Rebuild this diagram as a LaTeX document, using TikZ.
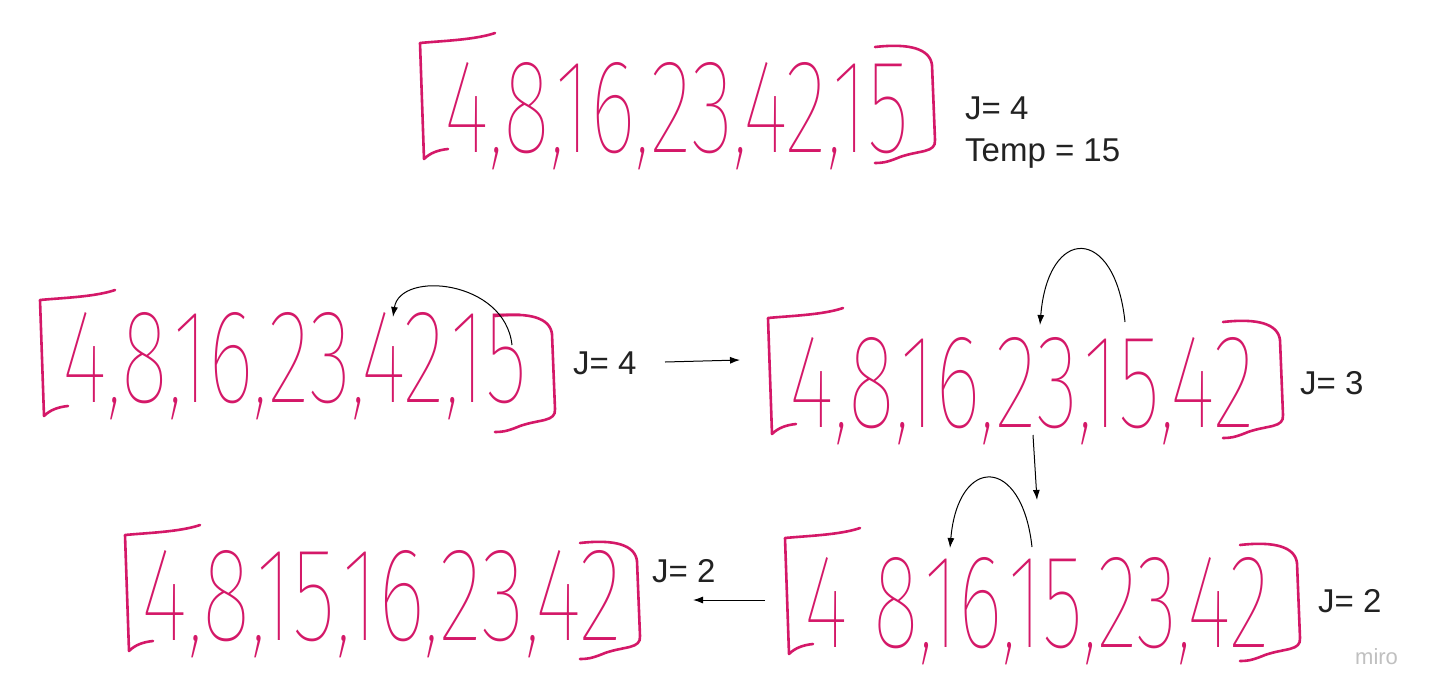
\documentclass[tikz,border=0pt]{standalone}
\usepackage{graphicx}
\usepackage{fontspec}
\setmainfont{Liberation Sans}
\newfontfamily\handfont{Fira Sans Thin}
\usetikzlibrary{arrows.meta}
\definecolor{ink}{RGB}{212,24,104}
\definecolor{lbl}{RGB}{34,34,34}
\definecolor{wmark}{RGB}{192,192,192}
\newcommand\leftbrk{\draw[hand] (75,-2) .. controls (55,5) and (20,6) .. (0,8) -- (4,124) .. controls (10,118) and (18,115) .. (28,114);}
\newcommand\rightbrk[1]{\draw[hand,shift={(0,#1)}] (455,12) .. controls (490,8) and (510,14) .. (512,30) -- (515,105) .. controls (516,118) and (500,115) .. (480,122) .. controls (470,126) and (465,128) .. (455,128);}
\begin{document}
\begin{tikzpicture}[x=1pt,y=-1pt,
  hand/.style={draw=ink,line width=2.6pt,line cap=round,line join=round},
  digits/.style={text=ink,inner sep=0pt,anchor=base},
  lab/.style={text=lbl,font=\fontsize{33}{38}\selectfont,inner sep=0pt,anchor=base west},
  conn/.style={draw=black,line width=1pt,-{Latex[length=10pt,width=7pt]}}]
\useasboundingbox[fill=white] (0,0) rectangle (1433,697);

% array 1
\begin{scope}[shift={(420,35)}]\leftbrk\rightbrk{0}\end{scope}
\node[digits] (a1) at (677,152) {\resizebox{465pt}{90pt}{\handfont 4,8,16,23,42,15}};
\node[lab] (j1) at (965,119) {J= 4};
\node[lab] (t1) at (965,161) {Temp = 15};

% array 2
\begin{scope}[shift={(40,292)}]\leftbrk\rightbrk{12}\end{scope}
\node[digits] (a2) at (295,402) {\resizebox{465pt}{90pt}{\handfont 4,8,16,23,42,15}};
\node[lab] (j2) at (573,374) {J= 4};

% array 3
\begin{scope}[shift={(768,310)}]\leftbrk\rightbrk{0}\end{scope}
\node[digits] (a3) at (1022,427) {\resizebox{465pt}{90pt}{\handfont 4,8,16,23,15,42}};
\node[lab] (j3) at (1300,394) {J= 3};

% array 4
\begin{scope}[shift={(785,530)}]\leftbrk\rightbrk{3}\end{scope}
\node[digits] (a4) at (1037,647) {\resizebox{465pt}{90pt}{\handfont 4 8,16,15,23,42}};
\node[lab] (j4) at (1318,612) {J= 2};

% array 5
\begin{scope}[shift={(125,527)}]\leftbrk\rightbrk{4}\end{scope}
\node[digits] (a5) at (382,640) {\resizebox{480pt}{90pt}{\handfont 4,8,15,16,23,42}};
\node[lab] (j5) at (652,582) {J= 2};

\node[text=wmark,font=\fontsize{22}{24}\selectfont,anchor=base west,inner sep=0pt] (wm) at (1355,664) {miro};

% connectors
\coordinate (s1) at (665,362); \coordinate (e1) at (740,360);
\draw[conn] (s1) -- (e1);
\coordinate (s2) at (1033,435); \coordinate (e2) at (1037,500);
\draw[conn] (s2) -- (e2);
\coordinate (s3) at (765,600); \coordinate (e3) at (693,600);
\draw[conn] (s3) -- (e3);
% swap arcs
\coordinate (c2s) at (512,345); \coordinate (c2e) at (393,317);
\draw[conn] (c2s) .. controls (505,280) and (400,270) .. (c2e);
\coordinate (c3s) at (1125,322); \coordinate (c3e) at (1040,325);
\draw[conn] (c3s) .. controls (1115,225) and (1048,225) .. (c3e);
\coordinate (c4s) at (1032,547); \coordinate (c4e) at (950,548);
\draw[conn] (c4s) .. controls (1022,455) and (958,455) .. (c4e);
\end{tikzpicture}
\end{document}
